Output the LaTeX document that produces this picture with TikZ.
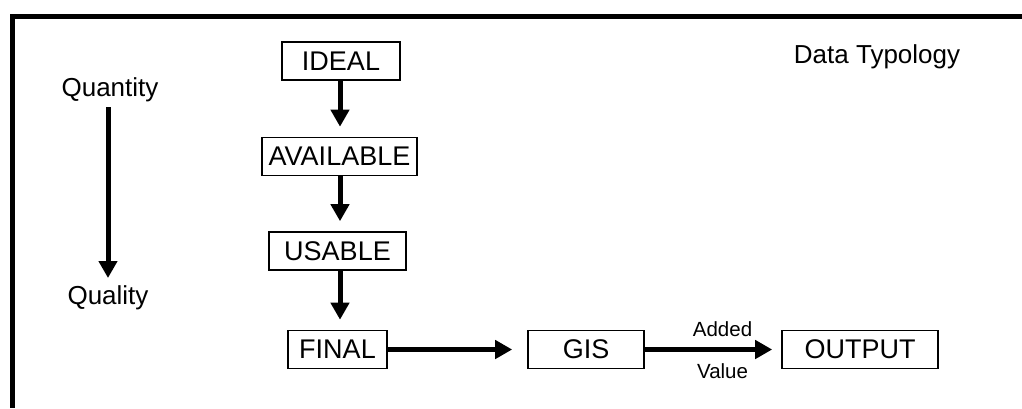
\documentclass[tikz,border=0pt]{standalone}
\usepackage{fontspec}
\setmainfont{Liberation Sans}
\usetikzlibrary{arrows.meta}
\begin{document}
\begin{tikzpicture}[x=1pt,y=-1pt,
  box/.style={draw, line width=1.6pt, minimum height=38pt, inner sep=0pt, font=\fontsize{27}{30}\selectfont},
  lbl/.style={inner sep=0pt, font=\fontsize{26}{29}\selectfont},
  small/.style={inner sep=0pt, font=\fontsize{20.5}{23}\selectfont},
  flow/.style={line width=5pt, -{Triangle[length=17pt,width=18pt]}, shorten >=10pt},
  frame/.style={line width=5pt}]
\useasboundingbox (0,0) rectangle (1022,408);
% frame
\coordinate (fc) at (12,16);
\coordinate (fr) at (1022,16);
\coordinate (fb) at (12,408);
\draw[frame] (fr) -- (fc) -- (fb);
% title
\node[lbl] (title) at (877,57) {Data Typology};
% quantity / quality
\node[lbl] (qty) at (110,90) {Quantity};
\node[lbl] (qly) at (108,298) {Quality};
\draw[flow, shorten >=0pt] (108,107) -- (108,278);
% boxes
\node[box, minimum width=118pt] (ideal) at (341,61) {IDEAL};
\node[box, minimum width=155pt] (avail) at (339.5,156.5) {AVAILABLE};
\node[box, minimum width=137pt] (usable) at (337.5,251) {USABLE};
\node[box, minimum width=99pt] (final) at (337.5,349.5) {FINAL};
\node[box, minimum width=116pt] (gis) at (586,349.5) {GIS};
\node[box, minimum width=156pt] (output) at (860,349.5) {OUTPUT};
% arrows
\draw[flow] (ideal.south -| 340,0) -- (avail.north -| 340,0);
\draw[flow] (avail.south -| 340,0) -- (usable.north -| 340,0);
\draw[flow] (usable.south -| 340,0) -- (final.north -| 340,0);
\draw[flow, shorten >=15pt] (final.east) -- (gis.west);
\draw[flow, shorten >=9pt] (gis.east) -- (output.west)
  node[small, pos=0.57, above=10pt] (added) {Added}
  node[small, pos=0.57, below=12pt] (value) {Value};
\end{tikzpicture}
\end{document}
